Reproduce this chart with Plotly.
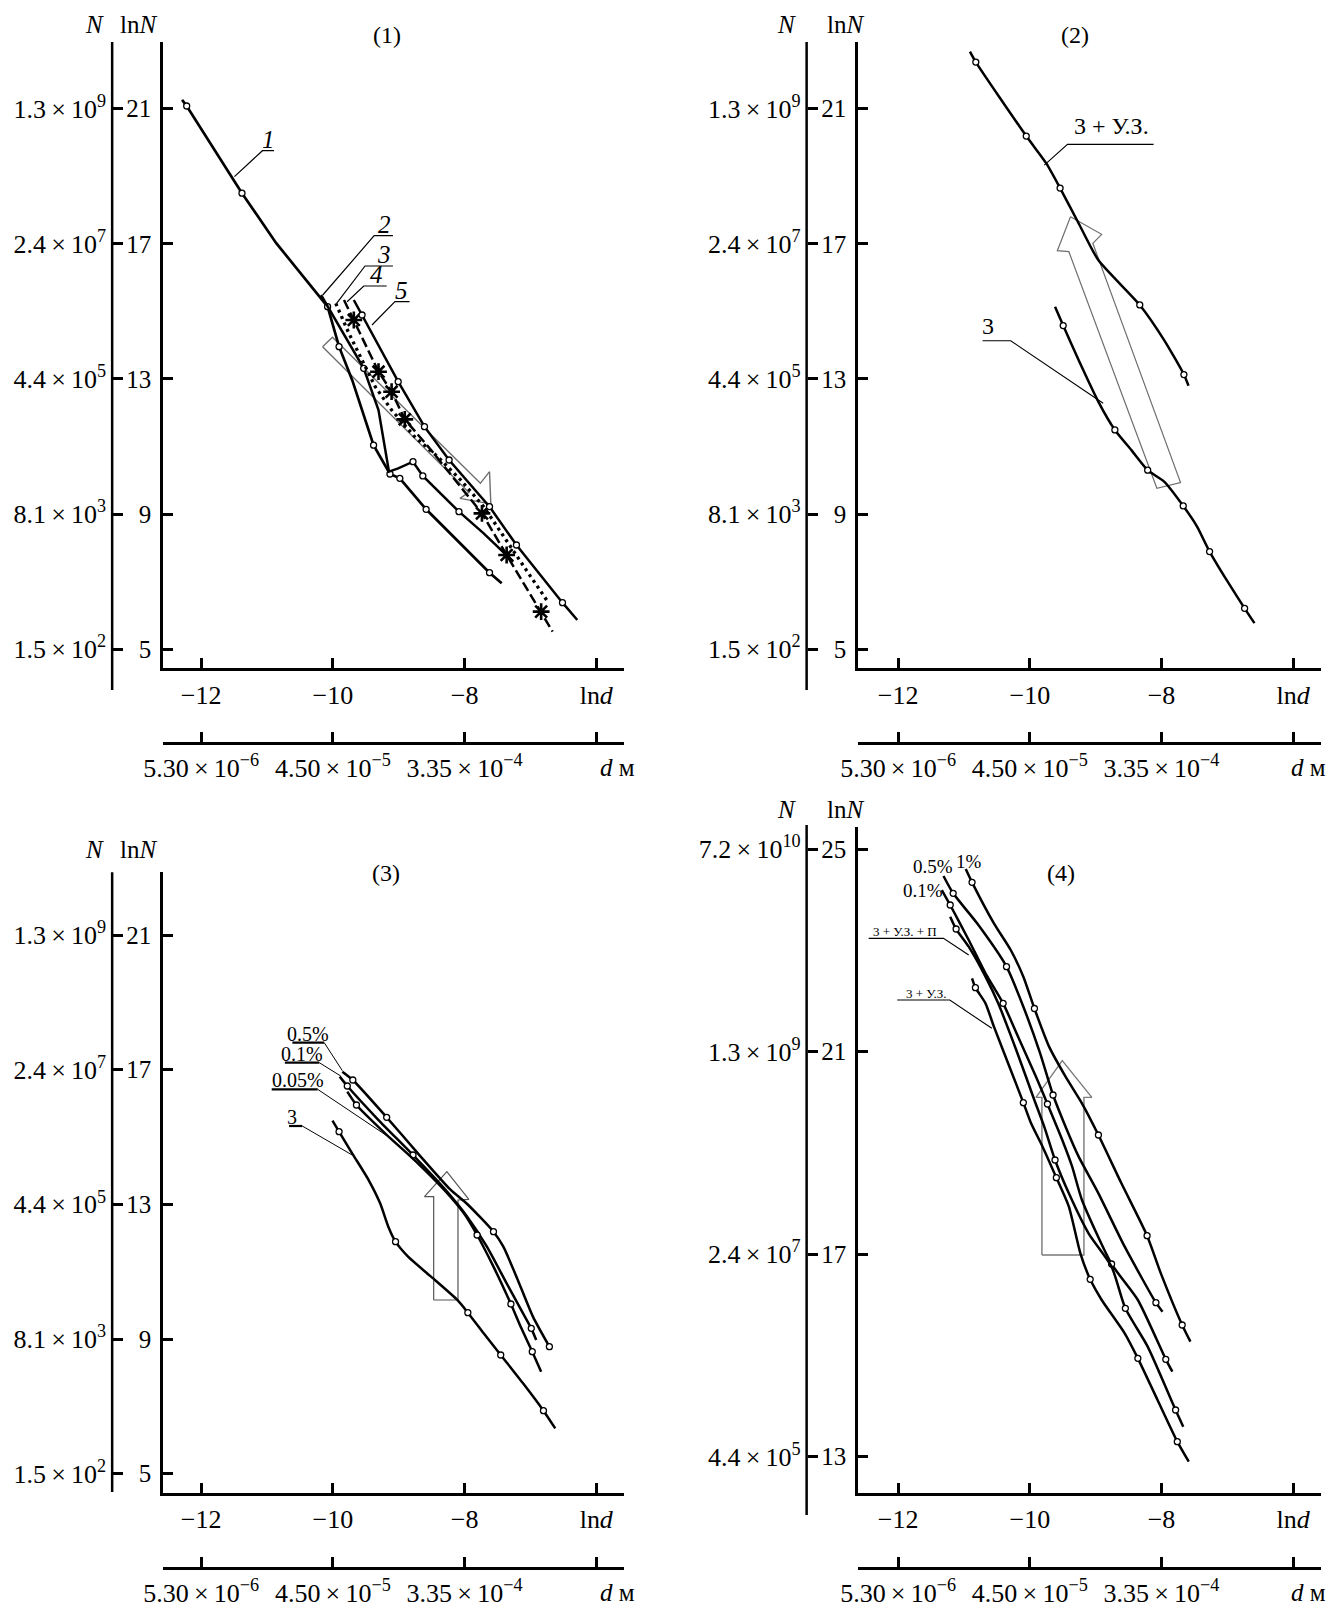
import plotly.graph_objects as go

W, H = 1335, 1608
SERIF = "Liberation Serif, 'Times New Roman', serif"
TS = "\u2009"  # thin space

# ---------------- tick definitions ----------------
LND_TICKS = [-12, -10, -8, -6]
LND_TEXT = ["−12", "−10", "−8", "ln<i>d</i>"]
D_TEXT = [f"5.30{TS}×{TS}10<sup>−6</sup>", f"4.50{TS}×{TS}10<sup>−5</sup>", f"3.35{TS}×{TS}10<sup>−4</sup>", ""]
LNN_TICKS_A = [21, 17, 13, 9, 5]
LNN_TEXT_A = ["21", "17", "13", "9", "5"]
N_TEXT_A = [f"1.3{TS}×{TS}10<sup>9</sup>", f"2.4{TS}×{TS}10<sup>7</sup>", f"4.4{TS}×{TS}10<sup>5</sup>",
            f"8.1{TS}×{TS}10<sup>3</sup>", f"1.5{TS}×{TS}10<sup>2</sup>"]
LNN_TICKS_B = [25, 21, 17, 13]
LNN_TEXT_B = ["25", "21", "17", "13"]
N_TEXT_B = [f"7.2{TS}×{TS}10<sup>10</sup>", f"1.3{TS}×{TS}10<sup>9</sup>", f"2.4{TS}×{TS}10<sup>7</sup>",
            f"4.4{TS}×{TS}10<sup>5</sup>"]

# ---------------- DATA: panel (1) (lnd, lnN) ----------------
P1_C1_LND = [-12.29, -12.22, -11.38, -10.86, -10.08, -9.906, -9.707, -9.382, -9.133, -8.983, -8.584, -7.621, -7.436]
P1_C1_LNN = [21.26, 21.08, 18.50, 17.02, 15.14, 13.955, 12.97, 11.04, 10.186, 10.057, 9.14, 7.265, 6.95]
P1_C1_MK = [1, 2, 4, 5, 7, 8, 9, 10, 11]

P1_C2_LND = [-10.18, -9.532, -9.307, -9.208, -9.148, -9.008, -8.783, -8.634, -8.085, -7.71, -7.26]
P1_C2_LNN = [15.485, 13.314, 12.08, 10.896, 10.255, 10.35, 10.55, 10.13, 9.071, 8.43, 7.59]
P1_C2_MK = [1, 6, 7, 8]

P1_C3_LND = [-9.956, -9.757, -9.557, -9.357, -9.108, -8.759, -8.41, -8.06, -7.71, -7.361, -7.062, -6.738]
P1_C3_LNN = [15.238, 14.35, 13.56, 12.77, 12.08, 11.29, 10.70, 10.01, 9.22, 8.23, 7.34, 6.41]

P1_C4_LND = [-9.831, -9.682, -9.307, -9.108, -8.908, -8.509, -8.11, -7.736, -7.361, -6.837, -6.663]
P1_C4_LNN = [15.337, 14.745, 13.215, 12.623, 11.804, 10.896, 9.91, 9.02, 7.788, 6.111, 5.52]
P1_C4_MK = [1, 2, 3, 4, 7, 8, 9]

P1_C5_LND = [-9.682, -9.557, -9.008, -8.609, -8.235, -7.621, -7.212, -6.513, -6.288]
P1_C5_LNN = [15.337, 14.893, 12.919, 11.587, 10.60, 9.219, 8.084, 6.377, 5.864]
P1_C5_MK = [1, 2, 3, 4, 5, 6, 7]

# ---------------- DATA: panel (2) ----------------
P2_UZ_LND = [-10.909, -10.82, -10.054, -9.749, -9.54, -9.259, -8.96, -8.33, -7.96, -7.66, -7.59]
P2_UZ_LNN = [22.69, 22.38, 20.19, 19.38, 18.65, 17.61, 16.52, 15.19, 14.15, 13.13, 12.8]
P2_UZ_MK = [1, 2, 4, 7, 9]

P2_C3_LND = [-9.617, -9.493, -9.259, -8.96, -8.708, -8.46, -8.21, -7.96, -7.67, -7.46, -7.27, -7.012, -6.738, -6.588]
P2_C3_LNN = [15.14, 14.58, 13.56, 12.33, 11.49, 10.90, 10.30, 9.96, 9.24, 8.63, 7.89, 7.05, 6.21, 5.77]
P2_C3_MK = [1, 4, 6, 8, 10, 12]

# ---------------- DATA: panel (3) ----------------
P3_05_LND = [-9.856, -9.697, -9.183, -8.709, -8.21, -7.96, -7.561, -7.411, -7.212, -6.962, -6.712]
P3_05_LNN = [16.941, 16.693, 15.585, 14.516, 13.427, 13.011, 12.189, 11.744, 10.853, 9.665, 8.774]
P3_05_MK = [1, 2, 6, 10]

P3_01_LND = [-9.896, -9.781, -9.307, -8.783, -8.309, -7.96, -7.661, -7.361, -7.112, -6.987, -6.912]
P3_01_LNN = [16.793, 16.515, 15.505, 14.466, 13.476, 12.635, 11.744, 10.654, 9.764, 9.318, 8.972]
P3_01_MK = [1, 3, 9]

P3_005_LND = [-9.781, -9.642, -9.207, -8.709, -8.309, -8.01, -7.81, -7.561, -7.296, -7.137, -6.972, -6.837]
P3_005_LNN = [16.347, 15.951, 15.11, 14.219, 13.427, 12.734, 12.09, 11.15, 10.041, 9.318, 8.625, 8.031]
P3_005_MK = [1, 6, 8, 10]

P3_C3_LND = [-10.006, -9.906, -9.707, -9.457, -9.282, -9.158, -9.048, -8.858, -8.509, -8.11, -7.95, -7.71,
             -7.451, -7.112, -6.802, -6.623]
P3_C3_LNN = [15.486, 15.159, 14.515, 13.723, 13.03, 12.338, 11.892, 11.446, 10.852, 10.16, 9.783, 9.17,
             8.526, 7.685, 6.873, 6.348]
P3_C3_MK = [1, 6, 10, 12, 14]

# ---------------- DATA: panel (4) ----------------
P4_1_LND = [-10.973, -10.877, -10.545, -10.29, -10.098, -9.93, -9.707, -9.457, -9.208, -8.958, -8.609,
            -8.219, -8.010, -7.686, -7.561]
P4_1_LNN = [24.605, 24.342, 23.532, 23.006, 22.479, 21.85, 21.097, 20.504, 19.978, 19.352, 18.398,
            17.364, 16.62, 15.6, 15.271]
P4_1_MK = [1, 5, 9, 11, 13]

P4_05_LND = [-11.311, -11.164, -10.8, -10.354, -10.098, -9.843, -9.647, -9.457, -9.258, -8.958, -8.559,
             -8.085, -7.985]
P4_05_LNN = [24.467, 24.125, 23.532, 22.677, 21.886, 20.965, 20.142, 19.517, 18.925, 18.2, 17.147,
             16.041, 15.864]
P4_05_MK = [1, 3, 6, 11]

P4_01_LND = [-11.336, -11.209, -10.928, -10.673, -10.405, -10.156, -9.906, -9.732, -9.507, -9.357,
             -9.208, -8.758, -8.359, -7.935, -7.835]
P4_01_LNN = [24.19, 23.894, 23.203, 22.545, 21.952, 21.228, 20.504, 19.964, 19.254, 18.727,
             18.069, 16.805, 16.094, 14.922, 14.679]
P4_01_MK = [1, 4, 7, 11, 13]

P4_UZP_LND = [-11.209, -11.119, -10.928, -10.673, -10.48, -10.206, -9.931, -9.781, -9.617, -9.407,
              -9.108, -8.758, -8.549, -8.21, -7.786, -7.67]
P4_UZP_LNN = [23.664, 23.42, 23.071, 22.479, 21.952, 21.031, 20.044, 19.517, 18.859, 18.2,
              17.41, 16.752, 15.93, 15.173, 13.922, 13.593]
P4_UZP_MK = [1, 8, 12, 14]

P4_UZ_LND = [-10.877, -10.826, -10.673, -10.545, -10.29, -10.098, -9.981, -9.806, -9.597, -9.407,
             -9.232, -9.083, -8.908, -8.559, -8.359, -8.06, -7.76, -7.586]
P4_UZ_LNN = [22.446, 22.262, 21.952, 21.492, 20.636, 19.991, 19.583, 19.122, 18.51, 17.937,
             17.015, 16.502, 16.094, 15.436, 14.942, 14.119, 13.297, 12.901]
P4_UZ_MK = [1, 5, 8, 11, 14, 16]

# ---------------- hollow arrows (lnd, lnN outlines) ----------------
P1_ARROW_LND = [-10.156, -10.006, -7.760, -7.621, -7.601, -8.070, -7.935, -10.156]
P1_ARROW_LNN = [13.955, 14.232, 9.910, 10.255, 9.298, 9.466, 9.643, 13.955]
P2_ARROW_LND = [-9.382, -8.909, -9.043, -7.711, -8.070, -9.407, -9.582, -9.382]
P2_ARROW_LNN = [17.803, 17.281, 17.015, 9.93, 9.762, 16.767, 16.796, 17.803]
P3_ARROW_LND = [-8.469, -8.469, -8.609, -8.269, -7.935, -8.100, -8.100, -8.469]
P3_ARROW_LNN = [10.16, 13.229, 13.229, 13.971, 13.149, 13.129, 10.16, 10.16]
P4_ARROW_LND = [-9.816, -9.816, -9.906, -9.507, -9.058, -9.178, -9.178, -9.816]
P4_ARROW_LNN = [16.983, 20.096, 20.096, 20.82, 20.096, 20.096, 16.983, 16.983]

# ---------------- panel geometry (pixels) ----------------
XS = 66.8  # px per unit lnd
GEOM = {
    1: dict(dx=-12, xl=158, xr=626, x12=196.8, yt=42, yb=667.7, vref=21, yref=108.7, ys=33.78,
            nx=106.5, ntop=42, nbot=690, dy=742.7, lnn=(LNN_TICKS_A, LNN_TEXT_A, N_TEXT_A),
            title=("(1)", 385, 35), tN=(89, 133, 24), dlab=(619, 767)),
    2: dict(dx=-5, xl=856, xr=1326, x12=896.8, yt=42, yb=667.7, vref=21, yref=108.7, ys=33.78,
            nx=804, ntop=42, nbot=690, dy=742.7, lnn=(LNN_TICKS_A, LNN_TEXT_A, N_TEXT_A),
            title=("(2)", 1076, 35), tN=(784, 843, 24), dlab=(1313, 767)),
    3: dict(dx=-12, xl=158, xr=626, x12=196.8, yt=872.3, yb=1492.5, vref=21, yref=935, ys=33.67,
            nx=106.5, ntop=872.3, nbot=1492, dy=1567.7, lnn=(LNN_TICKS_A, LNN_TEXT_A, N_TEXT_A),
            title=("(3)", 384, 873), tN=(89, 133, 849), dlab=(619, 1592)),
    4: dict(dx=-5, xl=856, xr=1326, x12=896.8, yt=826.7, yb=1492.5, vref=25, yref=849, ys=50.64,
            nx=804, ntop=825, nbot=1515, dy=1567.7, lnn=(LNN_TICKS_B, LNN_TEXT_B, N_TEXT_B),
            title=("(4)", 1062, 873), tN=(784, 843, 809), dlab=(1313, 1592)),
}


def aid(n):
    return "" if n == 1 else str(n)


fig = go.Figure()
layout = dict(width=W, height=H, autosize=False, margin=dict(l=0, r=0, t=0, b=0, pad=0),
              paper_bgcolor="white", plot_bgcolor="rgba(0,0,0,0)", showlegend=False,
              font=dict(family=SERIF, color="black"))
shapes, annos = [], []
TF = dict(family=SERIF, size=26, color="black")
TF_LNN = dict(family=SERIF, size=25, color="black")


def paper_text(text, x, y, size):
    annos.append(dict(text=text, x=x / W, y=1 - y / H, xref="paper", yref="paper", showarrow=False,
                      xanchor="center", yanchor="middle",
                      font=dict(family=SERIF, size=size, color="black")))


for k, g in GEOM.items():
    s = g["dx"]
    xl, xr, x12, nx = g["xl"] + s, g["xr"] + s, g["x12"] + s, g["nx"] + s
    x_lo = -12 + (xl - x12) / XS
    x_hi = -12 + (xr - x12) / XS
    y_hi = g["vref"] + (g["yref"] - g["yt"]) / g["ys"]
    y_lo = g["vref"] - (g["yb"] - g["yref"]) / g["ys"]
    lt, ltx, ntx = g["lnn"]
    common = dict(showgrid=False, zeroline=False, ticks="inside", ticklen=10, tickwidth=2.5,
                  tickcolor="black", linecolor="black", linewidth=2.5, fixedrange=True)
    layout["xaxis" + aid(k)] = dict(domain=[xl / W, xr / W], range=[x_lo, x_hi], tickfont=TF,
                                    anchor="y" + aid(k), showline=True, tickvals=LND_TICKS,
                                    ticktext=LND_TEXT, ticklabelstandoff=2, **common)
    layout["yaxis" + aid(k)] = dict(domain=[1 - g["yb"] / H, 1 - g["yt"] / H], range=[y_lo, y_hi],
                                    tickfont=TF_LNN, anchor="x" + aid(k), showline=True, tickvals=lt,
                                    ticktext=ltx, ticklabelstandoff=4, **common)
    layout["yaxis" + str(k + 4)] = dict(overlaying="y" + aid(k), anchor="free", position=nx / W,
                                       side="left", range=[y_lo, y_hi], showline=False, tickvals=lt,
                                       tickfont=TF, ticktext=ntx, ticklabelstandoff=6, **common)
    layout["xaxis" + str(k + 4)] = dict(overlaying="x" + aid(k), anchor="free", position=1 - g["dy"] / H,
                                       side="bottom", range=[x_lo, x_hi], showline=True, tickvals=LND_TICKS,
                                       tickfont=TF, ticktext=D_TEXT, ticklabelstandoff=1, **common)
    # dummy traces to attach the extra axes
    fig.add_trace(go.Scatter(x=[None], y=[None], xaxis="x" + aid(k), yaxis="y" + str(k + 4),
                             showlegend=False, hoverinfo="skip"))
    fig.add_trace(go.Scatter(x=[None], y=[None], xaxis="x" + str(k + 4), yaxis="y" + aid(k),
                             showlegend=False, hoverinfo="skip"))
    # N axis line (longer than the lnN axis)
    shapes.append(dict(type="line", xref="paper", yref="paper", x0=nx / W, x1=nx / W,
                       y0=1 - g["ntop"] / H, y1=1 - g["nbot"] / H, line=dict(color="black", width=2.5)))
    t, tx, ty = g["title"]
    paper_text(t, tx + s, ty, 24)
    nxp, lnxp, typ = g["tN"]
    paper_text("<i>N</i>", nxp + s, typ, 25)
    paper_text("ln<i>N</i>", lnxp + s, typ, 25)
    ddx, ddy = g["dlab"]
    paper_text("<i>d</i> м", ddx + s, ddy, 25)


def add_curve(k, xs, ys, mk=None, dash="solid", width=2.5, sym="circle", shape="spline"):
    xa, ya = "x" + aid(k), "y" + aid(k)
    line = dict(color="black", width=width, dash=dash)
    if shape == "spline":
        line.update(shape="spline", smoothing=0.6)
    fig.add_trace(go.Scatter(x=xs, y=ys, mode="lines", line=line, xaxis=xa, yaxis=ya,
                             showlegend=False, hoverinfo="skip"))
    if mk:
        mx = [xs[i] for i in mk]
        my = [ys[i] for i in mk]
        if sym == "circle":
            marker = dict(symbol="circle", size=6, color="white", line=dict(color="black", width=1.3))
        else:
            marker = dict(symbol="asterisk-open", size=14, color="black", line=dict(color="black", width=2.6))
        fig.add_trace(go.Scatter(x=mx, y=my, mode="markers", marker=marker, xaxis=xa, yaxis=ya,
                                 showlegend=False, hoverinfo="skip", cliponaxis=False))


def add_poly(k, xs, ys, color="black", width=1.0):
    fig.add_trace(go.Scatter(x=xs, y=ys, mode="lines", line=dict(color=color, width=width),
                             xaxis="x" + aid(k), yaxis="y" + aid(k), showlegend=False, hoverinfo="skip"))


def add_text(k, text, x, y, size, yanchor="bottom", yshift=-4):
    annos.append(dict(text=text, x=x, y=y, xref="x" + aid(k), yref="y" + aid(k), showarrow=False,
                      xanchor="center", yanchor=yanchor, yshift=yshift if yanchor == "bottom" else 0,
                      font=dict(family=SERIF, size=size, color="black")))


# ---- arrows (drawn first, underneath) ----
add_poly(1, P1_ARROW_LND, P1_ARROW_LNN, color="#6e6e6e", width=1.4)
add_poly(2, P2_ARROW_LND, P2_ARROW_LNN, color="#6e6e6e", width=1.2)
add_poly(3, P3_ARROW_LND, P3_ARROW_LNN, color="#555555", width=1.2)
add_poly(4, P4_ARROW_LND, P4_ARROW_LNN, color="#7a7a7a", width=1.4)

# ---- panel 1 ----
add_curve(1, P1_C1_LND, P1_C1_LNN, P1_C1_MK, width=2.7, shape="linear")
add_curve(1, P1_C2_LND, P1_C2_LNN, P1_C2_MK, width=2.5, shape="linear")
add_curve(1, P1_C3_LND, P1_C3_LNN, None, dash="3px,4px", width=3.3, shape="linear")
add_curve(1, P1_C4_LND, P1_C4_LNN, P1_C4_MK, dash="10px,4px", width=2.5, sym="star", shape="linear")
add_curve(1, P1_C5_LND, P1_C5_LNN, P1_C5_MK, width=2.5, shape="linear")

P1_LEADERS = [
    ("<i>1</i>", -10.97, ([-11.495, -11.07, -10.894], [18.99, 19.757, 19.757])),
    ("<i>2</i>", -9.216, ([-10.153, -9.373, -9.088], [15.485, 17.24, 17.24])),
    ("<i>3</i>", -9.216, ([-9.943, -9.512, -9.088], [15.239, 16.343, 16.343])),
    ("<i>4</i>", -9.341, ([-9.784, -9.531, -9.183], [15.287, 15.751, 15.751])),
    ("<i>5</i>", -8.963, ([-9.406, -9.057, -8.835], [14.597, 15.287, 15.287])),
]
for txt, tx, (lx, ly) in P1_LEADERS:
    add_poly(1, lx, ly, width=1.2)
    add_text(1, txt, tx, ly[-1], 25)

# ---- panel 2 ----
add_curve(2, P2_UZ_LND, P2_UZ_LNN, P2_UZ_MK)
add_curve(2, P2_C3_LND, P2_C3_LNN, P2_C3_MK)
add_poly(2, [-9.78, -9.428, -8.12], [19.33, 19.945, 19.945], width=1.1)
add_text(2, "3 + У.З.", -8.758, 19.945, 24, yshift=3)
add_poly(2, [-10.718, -10.29, -8.886], [14.13, 14.13, 12.28], width=1.1)
add_text(2, "3", -10.64, 14.13, 24, yshift=0)
add_text(2, "0.5%", -11.47, 22.98, 16, yanchor="middle")
add_text(2, "1%", -10.93, 23.13, 17, yanchor="middle")

# ---- panel 3 ----
add_curve(3, P3_05_LND, P3_05_LNN, P3_05_MK)
add_curve(3, P3_01_LND, P3_01_LNN, P3_01_MK)
add_curve(3, P3_005_LND, P3_005_LNN, P3_005_MK)
add_curve(3, P3_C3_LND, P3_C3_LNN, P3_C3_MK)
P3_LEADERS = [
    ("0.5%", -10.373, ([-10.615, -10.131, -9.856], [17.802, 17.802, 16.97])),
    ("0.1%", -10.47, ([-10.729, -10.206, -9.881], [17.208, 17.208, 16.812])),
    ("0.05%", -10.53, ([-10.929, -10.231, -9.158], [16.416, 16.416, 15.01])),
    ("3", -10.615, ([-10.665, -10.465, -9.707], [15.327, 15.327, 14.466])),
]
for txt, tx, (lx, ly) in P3_LEADERS:
    add_poly(3, lx[:2], ly[:2], width=2.2)
    add_poly(3, lx[1:], ly[1:], width=1.0)
    add_text(3, txt, tx, ly[0], 20)

# ---- panel 4 ----
add_curve(4, P4_1_LND, P4_1_LNN, P4_1_MK)
add_curve(4, P4_05_LND, P4_05_LNN, P4_05_MK)
add_curve(4, P4_01_LND, P4_01_LNN, P4_01_MK)
add_curve(4, P4_UZP_LND, P4_UZP_LNN, P4_UZP_MK)
add_curve(4, P4_UZ_LND, P4_UZ_LNN, P4_UZ_MK)
add_poly(4, [-12.447, -11.311, -10.928], [23.236, 23.236, 22.907], width=1.1)
add_text(4, "3 + У.З. + П", -11.898, 23.236, 13, yshift=-3)
add_poly(4, [-12.013, -11.215, -10.577], [22.018, 22.018, 21.459], width=1.1)
add_text(4, "3 + У.З.", -11.579, 22.018, 13, yshift=-3)
add_text(4, "0.5%", -11.47, 24.651, 19, yanchor="middle")
add_text(4, "1%", -10.928, 24.75, 19, yanchor="middle")
add_text(4, "0.1%", -11.617, 24.177, 19, yanchor="middle")

layout["shapes"] = shapes
layout["annotations"] = annos
fig.update_layout(**layout)

fig.write_html("out.html", include_plotlyjs=True, full_html=True,
               config={"displayModeBar": False, "responsive": False},
               post_script="document.body.style.margin='0';document.body.style.overflow='hidden';")
